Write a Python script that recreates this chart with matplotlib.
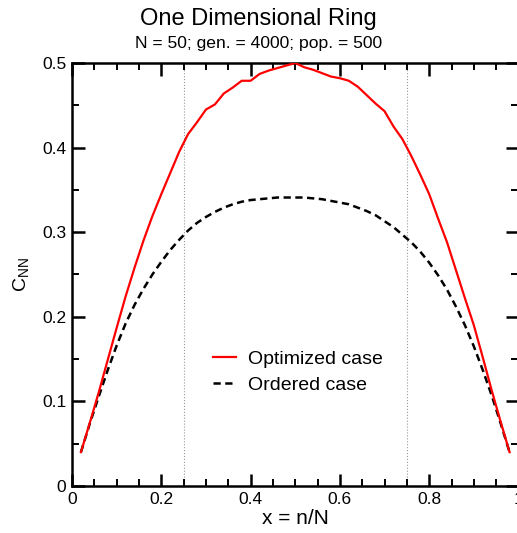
import matplotlib
matplotlib.use('Agg')
import matplotlib.pyplot as plt
from matplotlib.ticker import MultipleLocator, FuncFormatter

plt.rcParams['font.family'] = ['Liberation Sans', 'DejaVu Sans']
plt.rcParams['mathtext.fontset'] = 'custom'
plt.rcParams['mathtext.rm'] = 'Liberation Sans'
plt.rcParams['mathtext.it'] = 'Liberation Sans'

# x = n/N for n = 1..49 (N = 50)
x = [0.02, 0.04, 0.06, 0.08, 0.10, 0.12, 0.14, 0.16, 0.18, 0.20,
     0.22, 0.24, 0.26, 0.28, 0.30, 0.32, 0.34, 0.36, 0.38, 0.40,
     0.42, 0.44, 0.46, 0.48, 0.50, 0.52, 0.54, 0.56, 0.58, 0.60,
     0.62, 0.64, 0.66, 0.68, 0.70, 0.72, 0.74, 0.76, 0.78, 0.80,
     0.82, 0.84, 0.86, 0.88, 0.90, 0.92, 0.94, 0.96, 0.98]

optimized = [0.040, 0.075, 0.111, 0.149, 0.187, 0.224, 0.258, 0.290, 0.319, 0.345,
             0.370, 0.395, 0.416, 0.430, 0.445, 0.451, 0.464, 0.471, 0.479, 0.479,
             0.487, 0.491, 0.494, 0.497, 0.500, 0.495, 0.492, 0.488, 0.484, 0.482,
             0.479, 0.472, 0.462, 0.452, 0.443, 0.425, 0.410, 0.390, 0.368, 0.345,
             0.316, 0.288, 0.255, 0.222, 0.190, 0.152, 0.113, 0.076, 0.040]

ordered = [0.040, 0.074, 0.106, 0.137, 0.166, 0.192, 0.214, 0.233, 0.250, 0.265,
           0.279, 0.291, 0.302, 0.311, 0.318, 0.324, 0.329, 0.333, 0.336, 0.338,
           0.339, 0.340, 0.341, 0.341, 0.341, 0.341, 0.340, 0.339, 0.337, 0.335,
           0.333, 0.329, 0.325, 0.320, 0.313, 0.306, 0.297, 0.288, 0.277, 0.264,
           0.249, 0.232, 0.212, 0.190, 0.165, 0.137, 0.107, 0.074, 0.040]

quarter_marks = [0.25, 0.75]

fig = plt.figure(figsize=(5.17, 5.33), dpi=100)
ax = fig.add_axes([0.1393, 0.0882, 0.8636, 0.7936])

for xv in quarter_marks:
    ax.axvline(xv, color='#999999', linestyle=':', linewidth=0.8, zorder=1)

ax.plot(x, optimized, color='#ff0000', linewidth=1.6, label='Optimized case', zorder=3)
ax.plot(x, ordered, color='black', linewidth=1.8, linestyle=(0, (2.9, 1.8)),
        label='Ordered case', zorder=2)

ax.set_xlim(0, 1)
ax.set_ylim(0, 0.5)
ax.xaxis.set_major_locator(MultipleLocator(0.2))
ax.xaxis.set_minor_locator(MultipleLocator(0.05))
ax.yaxis.set_major_locator(MultipleLocator(0.1))
ax.yaxis.set_minor_locator(MultipleLocator(0.05))
fmt = FuncFormatter(lambda v, p: '%g' % round(v, 3))
ax.xaxis.set_major_formatter(fmt)
ax.yaxis.set_major_formatter(fmt)

ax.tick_params(which='both', direction='in', top=True, right=True, labelsize=12.5)
ax.tick_params(which='major', length=9, width=1.8, pad=4)
ax.tick_params(which='minor', length=5, width=1.4)
for s in ax.spines.values():
    s.set_linewidth(1.8)

ax.set_xlabel('x = n/N', fontsize=15, labelpad=2)
ax.set_ylabel(r'C$_{\mathregular{NN}}$', fontsize=14, labelpad=8)

leg = ax.legend(loc='upper left', bbox_to_anchor=(0.316, 0.32), frameon=False,
                fontsize=14, handlelength=1.2, handletextpad=0.6,
                labelspacing=0.4, borderaxespad=0, borderpad=0)

fig.text(0.5, 0.964, 'One Dimensional Ring', ha='center', va='center', fontsize=17)
fig.text(0.5, 0.919, 'N = 50; gen. = 4000; pop. = 500', ha='center', va='center', fontsize=12.6)

fig.savefig('out.png', dpi=100)
